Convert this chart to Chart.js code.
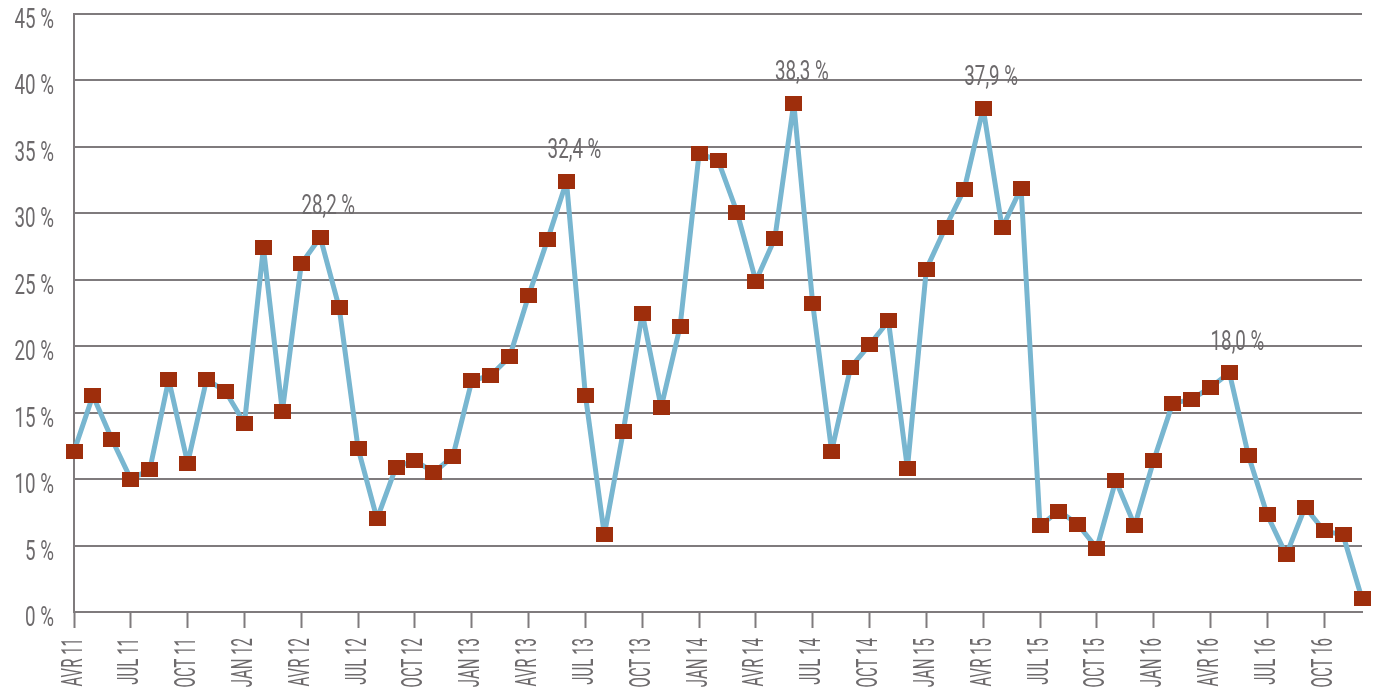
<!DOCTYPE html>
<html><head><meta charset="utf-8">
<script src="https://cdn.jsdelivr.net/npm/chart.js@4/dist/chart.umd.min.js"></script>
<style>html,body{margin:0;padding:0;background:#fff;overflow:hidden}#wrap{width:1376px;height:698px}</style>
</head><body><div id="wrap"><canvas id="c" width="1376" height="698"></canvas></div>
<script>
const categories = [
  'AVR 11','MAI 11','JUN 11','JUL 11','AOU 11','SEP 11','OCT 11','NOV 11','DEC 11',
  'JAN 12','FEV 12','MAR 12','AVR 12','MAI 12','JUN 12','JUL 12','AOU 12','SEP 12','OCT 12','NOV 12','DEC 12',
  'JAN 13','FEV 13','MAR 13','AVR 13','MAI 13','JUN 13','JUL 13','AOU 13','SEP 13','OCT 13','NOV 13','DEC 13',
  'JAN 14','FEV 14','MAR 14','AVR 14','MAI 14','JUN 14','JUL 14','AOU 14','SEP 14','OCT 14','NOV 14','DEC 14',
  'JAN 15','FEV 15','MAR 15','AVR 15','MAI 15','JUN 15','JUL 15','AOU 15','SEP 15','OCT 15','NOV 15','DEC 15',
  'JAN 16','FEV 16','MAR 16','AVR 16','MAI 16','JUN 16','JUL 16','AOU 16','SEP 16','OCT 16','NOV 16','DEC 16'
];
const rates = [
  12.1, 16.3, 13.0, 10.0, 10.7, 17.5, 11.2, 17.5, 16.6,
  14.2, 27.4, 15.1, 26.2, 28.2, 22.9, 12.3, 7.0, 10.9, 11.4, 10.5, 11.7,
  17.4, 17.8, 19.2, 23.8, 28.0, 32.4, 16.3, 5.8, 13.6, 22.5, 15.4, 21.5,
  34.5, 34.0, 30.1, 24.9, 28.1, 38.3, 23.2, 12.1, 18.4, 20.1, 21.9, 10.8,
  25.8, 28.9, 31.8, 37.9, 28.9, 31.9, 6.5, 7.6, 6.6, 4.8, 9.9, 6.5,
  11.4, 15.7, 16.0, 16.9, 18.0, 11.8, 7.3, 4.3, 7.9, 6.1, 5.8, 1.0
];
const annotated = ['MAI 12','JUN 13','JUN 14','AVR 15','MAI 16'];
const tickEvery = 3;

const TEXT = '#6d6a6c';
const GRID = '#7f7b7d';
const LINE = '#78b6d0';
const MARK = '#9e2e0c';
const FONT = 'Roboto';
const SX = 0.67;
const SX_ROT = 0.5;

const canvas = document.getElementById('c');
const ctx = canvas.getContext('2d');
const origFill = ctx.fillText;
ctx.fillText = function(t, x, y) {
  const s = this.font.indexOf('30px') >= 0 ? SX_ROT : SX;
  this.save();
  this.translate(x, y);
  this.scale(s, 1);
  origFill.call(this, t, 0, 0);
  this.restore();
};

const marker = document.createElement('canvas');
marker.width = 17; marker.height = 15;
const mctx = marker.getContext('2d');
mctx.fillStyle = MARK;
mctx.fillRect(0, 0, 17, 15);

const peakLabels = {
  id: 'peakLabels',
  afterDatasetsDraw(chart) {
    const meta = chart.getDatasetMeta(0);
    const c = chart.ctx;
    c.save();
    c.font = '400 28px ' + FONT;
    c.fillStyle = TEXT;
    c.textAlign = 'center';
    c.textBaseline = 'middle';
    annotated.forEach(cat => {
      const i = categories.indexOf(cat);
      const p = meta.data[i];
      const txt = rates[i].toFixed(1).replace('.', ',') + ' %';
      c.fillText(txt, p.x + 8, p.y - 30);
    });
    c.restore();
  }
};

new Chart(ctx, {
  type: 'line',
  data: {
    labels: categories,
    datasets: [{
      data: rates,
      borderColor: LINE,
      borderWidth: 5,
      borderJoinStyle: 'round',
      tension: 0,
      fill: false,
      clip: false,
      pointStyle: marker,
      pointRadius: 9,
      pointHoverRadius: 9
    }]
  },
  options: {
    responsive: false,
    animation: false,
    devicePixelRatio: 1,
    events: [],
    layout: { padding: { top: 12, right: 12, left: 0, bottom: 0 } },
    plugins: { legend: { display: false }, tooltip: { enabled: false } },
    scales: {
      x: {
        offset: false,
        grid: { display: true, drawOnChartArea: false, drawTicks: true, tickLength: 16, tickWidth: 2, tickColor: GRID },
        border: { display: true, color: GRID, width: 2 },
        ticks: {
          autoSkip: false, maxRotation: 90, minRotation: 90, padding: 10,
          color: TEXT, font: { family: FONT, size: 30 },
          callback: (v, i) => (i % tickEvery === 0 ? categories[i] : null)
        },
        afterFit(s) { s.height = 86; s.paddingLeft = 0; s.paddingRight = 0; }
      },
      y: {
        min: 0, max: 45,
        grid: { color: GRID, lineWidth: 2, drawTicks: false },
        border: { display: true, color: GRID, width: 2 },
        ticks: {
          stepSize: 5, padding: 20, labelOffset: 7,
          color: TEXT, font: { family: FONT, size: 28 },
          callback: v => v + ' %'
        },
        afterFit(s) { s.width = 74; s.paddingTop = 0; s.paddingBottom = 0; }
      }
    }
  },
  plugins: [peakLabels]
});
</script>
</body></html>
